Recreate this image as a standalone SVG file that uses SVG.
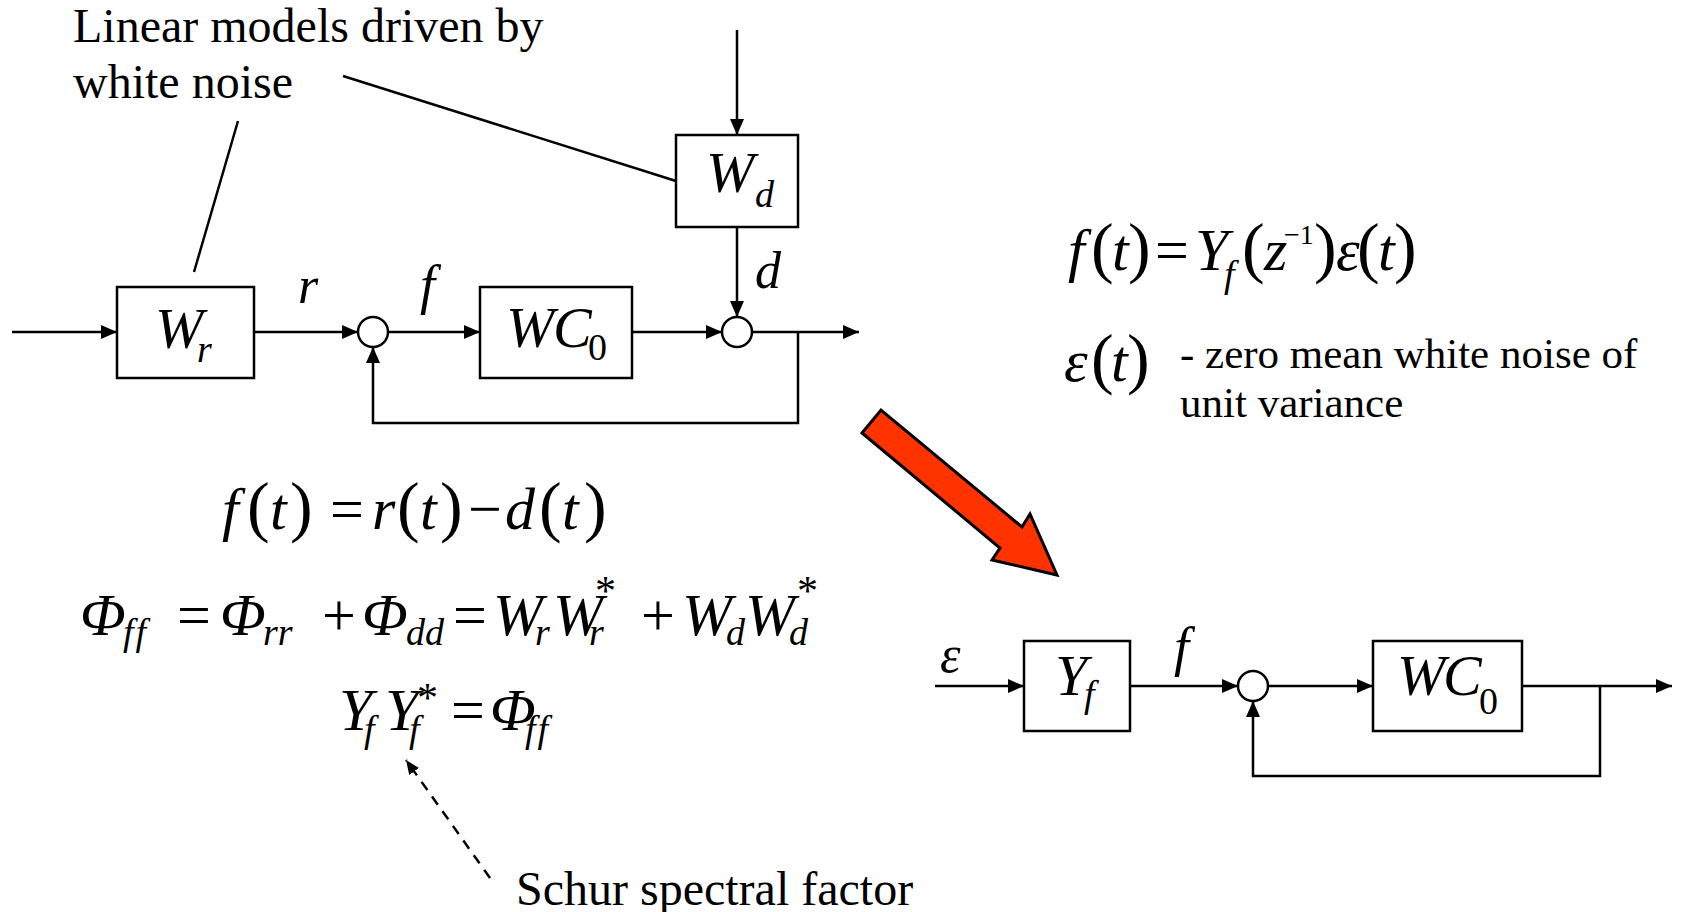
<svg xmlns="http://www.w3.org/2000/svg" width="1681" height="912" viewBox="0 0 1681 912">
<defs>
<marker id="ah" markerUnits="userSpaceOnUse" markerWidth="18" markerHeight="16" refX="16" refY="7" orient="auto">
<path d="M0,0 L16,7 L0,14 z" fill="#000"/>
</marker>
<marker id="ahs" markerUnits="userSpaceOnUse" markerWidth="16" markerHeight="14" refX="14" refY="6" orient="auto">
<path d="M0,0 L14,6 L0,12 z" fill="#000"/>
</marker>
<style>
.ln{stroke:#000;stroke-width:2.5;fill:none}
.bx{stroke:#000;stroke-width:2.5;fill:#fff}
.t{font-family:"Liberation Serif","Times New Roman",serif;fill:#000}
.i{font-family:"Liberation Serif","Times New Roman",serif;font-style:italic;fill:#000}
.u{font-style:normal}
.p{font-style:normal;font-size:68px}
.s{font-size:38px}
.sp{letter-spacing:2px}
</style>
</defs>
<rect width="1681" height="912" fill="#fff"/>

<g id="connectors">
<line class="ln" x1="12" y1="332" x2="117" y2="332" marker-end="url(#ah)"/>
<line class="ln" x1="254" y1="332" x2="358" y2="332" marker-end="url(#ah)"/>
<line class="ln" x1="388" y1="332" x2="480" y2="332" marker-end="url(#ah)"/>
<line class="ln" x1="632" y1="332" x2="722" y2="332" marker-end="url(#ah)"/>
<line class="ln" x1="752" y1="332" x2="859" y2="332" marker-end="url(#ah)"/>
<polyline class="ln" points="798,332 798,423 373,423 373,347" marker-end="url(#ah)"/>
<line class="ln" x1="737" y1="30" x2="737" y2="135" marker-end="url(#ah)"/>
<line class="ln" x1="737" y1="227" x2="737" y2="317" marker-end="url(#ah)"/>
<line class="ln" x1="343" y1="76" x2="676" y2="181" stroke-width="2"/>
<line class="ln" x1="238" y1="121" x2="194" y2="272" stroke-width="2"/>
<line class="ln" x1="490" y1="878" x2="406" y2="760" stroke-width="2" stroke-dasharray="10,8" marker-end="url(#ahs)"/>
<line class="ln" x1="935" y1="686" x2="1024" y2="686" marker-end="url(#ah)"/>
<line class="ln" x1="1130" y1="686" x2="1238" y2="686" marker-end="url(#ah)"/>
<line class="ln" x1="1268" y1="686" x2="1373" y2="686" marker-end="url(#ah)"/>
<line class="ln" x1="1522" y1="686" x2="1672" y2="686" marker-end="url(#ah)"/>
<polyline class="ln" points="1600,686 1600,776 1253,776 1253,701" marker-end="url(#ah)"/>
</g>

<g id="node-Wr">
<rect class="bx" x="117" y="287" width="137" height="91"/>
<text class="i" x="155" y="348" font-size="58">W</text>
<text class="i s" x="197" y="362">r</text>
</g>
<g id="node-sum1"><circle class="bx" cx="373" cy="332" r="15"/></g>
<g id="node-WC0">
<rect class="bx" x="480" y="287" width="152" height="91"/>
<text class="i" x="506" y="347" font-size="58">W<tspan x="553">C</tspan></text>
<text class="t s" x="588" y="360">0</text>
</g>
<g id="node-sum2"><circle class="bx" cx="737" cy="332" r="15"/></g>
<g id="node-Wd">
<rect class="bx" x="676" y="135" width="122" height="92"/>
<text class="i" x="706" y="192" font-size="58">W</text>
<text class="i s" x="755" y="207">d</text>
</g>
<g id="labels-top">
<text class="i" x="298" y="303" font-size="52">r</text>
<text class="i" x="420" y="303" font-size="54">f</text>
<text class="i" x="755" y="288" font-size="52">d</text>
</g>
<g id="note-linear">
<text class="t" x="73" y="42" font-size="48">Linear models driven by</text>
<text class="t" x="73" y="98" font-size="48">white noise</text>
</g>

<g id="eq1" class="i" font-size="60">
<text y="529"><tspan x="222">f</tspan><tspan class="p" x="247">(</tspan><tspan x="270">t</tspan><tspan class="p" x="290">)</tspan><tspan class="u" x="330">=</tspan><tspan x="372">r</tspan><tspan class="p" x="397">(</tspan><tspan x="420">t</tspan><tspan class="p" x="440">)</tspan><tspan class="u" x="468">−</tspan><tspan x="505">d</tspan><tspan class="p" x="539">(</tspan><tspan x="562">t</tspan><tspan class="p" x="584">)</tspan></text>
</g>

<g id="eq2" class="i">
<text y="635" font-size="60"><tspan x="80">Φ</tspan><tspan class="u" x="177">=</tspan><tspan x="220">Φ</tspan><tspan class="u" x="322">+</tspan><tspan x="362">Φ</tspan><tspan class="u" x="453">=</tspan><tspan x="493">W</tspan><tspan x="553">W</tspan><tspan class="u" x="641">+</tspan><tspan x="682">W</tspan><tspan x="745">W</tspan></text>
<text y="645" class="s"><tspan class="sp" x="123">ff</tspan><tspan x="263">rr</tspan><tspan x="406">dd</tspan><tspan x="535">r</tspan><tspan x="589">r</tspan><tspan x="726">d</tspan><tspan x="789">d</tspan></text>
<text y="605" font-size="42" class="u"><tspan x="595">*</tspan><tspan x="797">*</tspan></text>
</g>

<g id="eq3" class="i">
<text y="730" font-size="60"><tspan x="339">Y</tspan><tspan x="385">Y</tspan><tspan class="u" x="451">=</tspan><tspan x="490">Φ</tspan></text>
<text y="742" class="s"><tspan x="364">f</tspan><tspan x="409">f</tspan><tspan class="sp" x="525">ff</tspan></text>
<text y="712" font-size="42" class="u" x="417">*</text>
</g>

<g id="note-schur">
<text class="t" x="516" y="905" font-size="48">Schur spectral factor</text>
</g>

<g id="arrow-red">
<polygon points="862,433 881,410 1022,527 1030,514 1057,575 992,560 1000,548" fill="#ff3300" stroke="#000" stroke-width="3" stroke-linejoin="miter"/>
</g>

<g id="eq4" class="i">
<text y="270" font-size="60"><tspan x="1068">f</tspan><tspan class="p" x="1091">(</tspan><tspan x="1112">t</tspan><tspan class="p" x="1128">)</tspan><tspan class="u" x="1155">=</tspan><tspan x="1195">Y</tspan><tspan class="p" x="1242">(</tspan><tspan x="1264">z</tspan><tspan class="p" x="1314">)</tspan><tspan x="1336">ε</tspan><tspan class="p" x="1357">(</tspan><tspan x="1378">t</tspan><tspan class="p" x="1394">)</tspan></text>
<text y="287" class="s" x="1224">f</text>
<text y="244" font-size="28" class="u" x="1284">−1</text>
</g>

<g id="note-eps">
<text class="i" y="381" font-size="60"><tspan x="1064">ε</tspan><tspan class="p" x="1091">(</tspan><tspan x="1111">t</tspan><tspan class="p" x="1127">)</tspan></text>
<text class="t" x="1180" y="368" font-size="43">- zero mean white noise of</text>
<text class="t" x="1180" y="417" font-size="43">unit variance</text>
</g>

<g id="node-Yf">
<rect class="bx" x="1024" y="641" width="106" height="90"/>
<text class="i" x="1055" y="695" font-size="58">Y</text>
<text class="i s" x="1084" y="707">f</text>
</g>
<g id="node-sum3"><circle class="bx" cx="1253" cy="686" r="15"/></g>
<g id="node-WC0b">
<rect class="bx" x="1373" y="641" width="149" height="90"/>
<text class="i" x="1397" y="695" font-size="58">W<tspan x="1443">C</tspan></text>
<text class="t s" x="1479" y="714">0</text>
</g>
<g id="labels-bottom">
<text class="i" x="940" y="672" font-size="52">ε</text>
<text class="i" x="1174" y="665" font-size="54">f</text>
</g>
</svg>
